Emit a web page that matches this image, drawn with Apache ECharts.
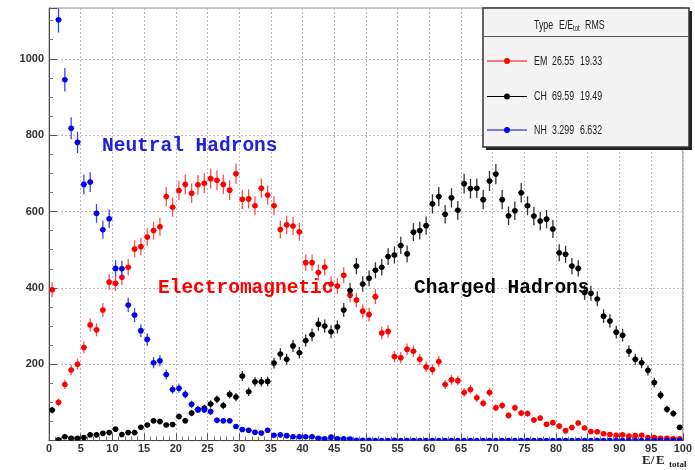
<!DOCTYPE html>
<html><head><meta charset="utf-8">
<script src="https://cdn.jsdelivr.net/npm/echarts/dist/echarts.min.js"></script>
<style>html,body{margin:0;padding:0;background:#fff}#c{width:695px;height:470px}</style>
</head><body><div id="c"></div><script>
// Histogram contents, 100 bins of width 1 on E/E_total (%)
const emValues = [395,100,147,185,200,244,303,290,342,415, 412,428,454,502,508,533,550,560,639,611,
  655,671,648,670,674,686,682,671,656,699, 632,633,615,661,643,615,553,565,562,547,
  466,466,440,454,410,405,433,381,368,339, 330,377,282,286,220,217,239,234,213,193,
  186,207,147,159,157,126,134,112,98,126, 86,92,66,86,72,71,54,59,43,47,
  38,26,34,46,33,24,23,18,16,14, 15,12,13,14,8,8,6,6,5,5];
const chValues = [80,2,10,6,6,8,15,15,19,21, 30,16,21,21,35,41,52,50,41,42,
  63,52,72,81,85,96,108,92,121,114, 169,128,154,154,155,203,227,213,248,230,
  262,277,305,300,285,298,342,393,457,410, 425,446,454,482,486,511,489,546,550,563,
  620,639,593,636,603,673,660,661,631,680, 698,631,589,602,649,615,588,575,580,554,
  492,488,457,451,388,386,371,326,313,284, 276,234,213,204,184,152,119,82,71,35];
// first NH bin is off scale (above the frame)
const nhValues = [null,1102,945,818,781,671,677,595,552,581, 451,450,355,329,288,265,204,209,173,134,
  137,121,95,81,81,76,53,52,52,37, 29,27,22,20,27,14,15,13,10,10,
  10,10,6,5,9,5,5,4,1,1, 1,0,0,0,1,0,0,0,0,0,
  0,0,0,0,0,0,0,0,0,0, 0,0,0,0,0,0,0,0,0,0,
  0,0,0,0,0,0,0,0,0,0, 0,0,0,0,0,0,0,0,0,0];
const yTickLabels = [200,400,600,800,1000];
const legendHeader = ['Type','E/E','tot','RMS'];
const legendNames = ['EM','CH','NH'];
const legendMeans = ['26.55','69.59','3.299'];
const legendRms = ['19.33','19.49','6.632'];
const annotations = ['Neutral Hadrons','Electromagnetic','Charged Hadrons'];

const binCenters = emValues.map((_, i) => i + 0.5);
function toData(vals){ return vals.map((v,i)=>[binCenters[i], v]).filter(d=>d[1]!=null); }

function makeRender(color, barColor){
  return function(params, api){
    const x = api.value(0), y = api.value(1);
    const e = Math.sqrt(y);
    const c = api.coord([x, y]);
    const t = api.coord([x, y + e]);
    const b = api.coord([x, Math.max(0, y - e)]);
    const l = api.coord([x - 0.5, y]);
    const r = api.coord([x + 0.5, y]);
    return {type:'group', children:[
      {type:'line', shape:{x1:c[0], y1:t[1], x2:c[0], y2:b[1]}, style:{stroke:barColor, lineWidth:1.3}},
      {type:'line', shape:{x1:l[0], y1:c[1], x2:r[0], y2:c[1]}, style:{stroke:barColor, lineWidth:1}},
      {type:'circle', shape:{cx:c[0], cy:c[1], r:2.8}, style:{fill:color}}
    ]};
  };
}

const colors = {EM:'#ff0000', CH:'#000000', NH:'#0000ee'};
const barColors = {EM:'#ff5050', CH:'#333333', NH:'#4040ff'};

const legSans = 'Liberation Sans, Arial, sans-serif';
const mono = '"Courier New", "Liberation Mono", monospace';
const g = [];
// annotations
g.push({type:'text', x:102, y:146, z:50, style:{text:annotations[0], font:'bold 19.5px '+mono, fill:'#2020e0', verticalAlign:'middle'}});
g.push({type:'text', x:158, y:288, z:50, style:{text:annotations[1], font:'bold 19.5px '+mono, fill:'#ff0000', verticalAlign:'middle'}});
g.push({type:'text', x:414, y:288, z:50, style:{text:annotations[2], font:'bold 19.5px '+mono, fill:'#000000', verticalAlign:'middle'}});
// legend box
g.push({type:'rect', z:60, shape:{x:486, y:11, width:206, height:139}, style:{fill:'#222'}});
g.push({type:'rect', z:61, shape:{x:483, y:8, width:206, height:139}, style:{fill:'#f4f4f4', stroke:'#333', lineWidth:1.5}});
g.push({type:'line', z:62, shape:{x1:483, y1:36.5, x2:689, y2:36.5}, style:{stroke:'#555', lineWidth:1}});
const hdrFont = '13px '+legSans;
g.push({type:'text', z:63, x:534, y:25, scaleX:0.68, style:{text:legendHeader[0], font:hdrFont, fill:'#222', verticalAlign:'middle'}});
g.push({type:'text', z:63, x:559, y:25, scaleX:0.68, style:{text:legendHeader[1], font:hdrFont, fill:'#222', verticalAlign:'middle'}});
g.push({type:'text', z:63, x:573, y:29, scaleX:0.68, style:{text:legendHeader[2], font:'9px '+legSans, fill:'#222', verticalAlign:'middle'}});
g.push({type:'text', z:63, x:585, y:25, scaleX:0.68, style:{text:legendHeader[3], font:hdrFont, fill:'#222', verticalAlign:'middle'}});
const rowY = [61, 96.5, 130];
const rowCol = [colors.EM, colors.CH, colors.NH];
for (let i=0;i<3;i++){
  g.push({type:'line', z:63, shape:{x1:487, y1:rowY[i], x2:527, y2:rowY[i]}, style:{stroke:rowCol[i], lineWidth:1}});
  g.push({type:'circle', z:64, shape:{cx:507, cy:rowY[i], r:3}, style:{fill:rowCol[i]}});
  g.push({type:'text', z:63, x:534, y:rowY[i], scaleX:0.68, style:{text:legendNames[i], font:hdrFont, fill:'#222', verticalAlign:'middle'}});
  g.push({type:'text', z:63, x:552, y:rowY[i], scaleX:0.68, style:{text:legendMeans[i], font:hdrFont, fill:'#222', verticalAlign:'middle'}});
  g.push({type:'text', z:63, x:580, y:rowY[i], scaleX:0.68, style:{text:legendRms[i], font:hdrFont, fill:'#222', verticalAlign:'middle'}});
}
// x axis title
const serif = 'Liberation Serif, "Times New Roman", serif';
g.push({type:'text', z:50, x:642, y:461, style:{text:'E/', font:'bold 13px '+serif, fill:'#222', verticalAlign:'middle'}});
g.push({type:'text', z:50, x:656, y:461, style:{text:'E', font:'bold 13px '+serif, fill:'#222', verticalAlign:'middle'}});
g.push({type:'text', z:50, x:669, y:465, style:{text:'total', font:'bold 9px '+serif, fill:'#222', verticalAlign:'middle'}});

const chart = echarts.init(document.getElementById('c'), null, {renderer:'canvas'});
chart.setOption({
  animation:false,
  backgroundColor:'#ffffff',
  grid:{left:49, right:5, top:8, bottom:29.4, show:true, borderColor:'#999', borderWidth:1},
  xAxis:{type:'value', min:0, max:100, interval:5,
    axisLine:{lineStyle:{color:'#444', width:1}},
    axisTick:{inside:true, length:7, lineStyle:{color:'#555'}},
    minorTick:{show:true, splitNumber:5, length:4, lineStyle:{color:'#777'}},
    splitLine:{show:true, lineStyle:{color:'#bbb', type:[2,2], width:1}},
    axisLabel:{color:'#333', fontWeight:'bold', fontSize:11, fontFamily:legSans, margin:3}
  },
  yAxis:{type:'value', min:0, max:1133, interval:200,
    axisLine:{show:true, lineStyle:{color:'#444', width:1}},
    axisTick:{inside:true, length:8, lineStyle:{color:'#555'}},
    minorTick:{show:true, splitNumber:4, length:4, lineStyle:{color:'#777'}},
    splitLine:{show:true, lineStyle:{color:'#bbb', type:[2,2], width:1}},
    axisLabel:{color:'#333', fontWeight:'bold', fontSize:11, fontFamily:legSans, margin:5,
      showMinLabel:false, showMaxLabel:false,
      formatter: v => yTickLabels.indexOf(v) >= 0 ? String(v) : ''}
  },
  series:[
    {type:'custom', name:'EM', clip:true, data:toData(emValues), encode:{x:0,y:1}, renderItem:makeRender(colors.EM, barColors.EM), z:3},
    {type:'custom', name:'CH', clip:true, data:toData(chValues), encode:{x:0,y:1}, renderItem:makeRender(colors.CH, barColors.CH), z:4},
    {type:'custom', name:'NH', clip:true, data:toData(nhValues), encode:{x:0,y:1}, renderItem:makeRender(colors.NH, barColors.NH), z:5}
  ],
  graphic:g
});
</script></body></html>
